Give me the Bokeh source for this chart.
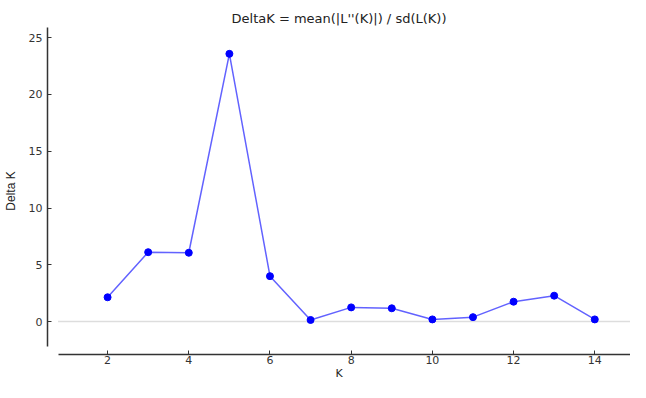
from bokeh.plotting import figure
from bokeh.models import LinearAxis, Range1d, FixedTicker, ColumnDataSource
from bokeh.embed import file_html
from bokeh.resources import INLINE

k_values = [2, 3, 4, 5, 6, 7, 8, 9, 10, 11, 12, 13, 14]
delta_k = [2.14, 6.11, 6.06, 23.58, 4.0, 0.14, 1.25, 1.17, 0.19, 0.39, 1.75, 2.28, 0.19]
x_ticks = [2, 4, 6, 8, 10, 12, 14]
y_ticks = [0, 5, 10, 15, 20, 25]
title_text = "DeltaK = mean(|L''(K)|) / sd(L(K))"

x_lo, x_hi = 0.78, 14.88
y_lo, y_hi = -2.2, 25.9

p = figure(width=630, height=382, output_backend="svg", toolbar_location=None,
           x_range=Range1d(0.52, x_hi), y_range=Range1d(-2.9, y_hi),
           x_axis_type=None, y_axis_type=None,
           min_border_left=43, min_border_right=0, min_border_top=27, min_border_bottom=0)
p.outline_line_color = None
p.grid.visible = False
p.background_fill_color = "white"

p.title.text = title_text
p.title.text_font = "DejaVu Sans"
p.title.text_font_size = "13px"
p.title.text_font_style = "normal"
p.title.text_color = "#222222"
p.title.align = "center"
p.title.standoff = 3

tick_font = "DejaVu Sans"
xaxis = LinearAxis(ticker=FixedTicker(ticks=x_ticks), bounds=(x_lo, x_hi), axis_label="K")
yaxis = LinearAxis(ticker=FixedTicker(ticks=y_ticks), bounds=(y_lo, y_hi), axis_label="Delta K")
for ax in (xaxis, yaxis):
    ax.axis_line_color = "#333333"
    ax.axis_line_width = 1.5
    ax.major_tick_in = 4
    ax.major_tick_out = 0
    ax.major_tick_line_color = "#333333"
    ax.minor_tick_line_color = None
    ax.major_label_text_font = tick_font
    ax.major_label_text_font_size = "11px"
    ax.major_label_text_color = "#333333"
    ax.axis_label_text_font_style = "normal"
    ax.axis_label_text_color = "#222222"
xaxis.major_label_standoff = 1
xaxis.axis_label_standoff = 0
xaxis.axis_label_text_font = "DejaVu Sans"
xaxis.axis_label_text_font_size = "11px"
yaxis.major_label_standoff = 5
yaxis.axis_label_standoff = 8
yaxis.axis_label_text_font = "Liberation Sans"
yaxis.axis_label_text_font_size = "12px"
p.add_layout(xaxis, "below")
p.add_layout(yaxis, "left")

# zero reference line
p.line(x=[x_lo, x_hi], y=[0, 0], line_color="#dddddd", line_width=1.5)

src = ColumnDataSource(data=dict(k=k_values, d=delta_k))
p.line(x="k", y="d", source=src, line_color="#2020ff", line_alpha=0.7, line_width=1.5)
p.scatter(x="k", y="d", source=src, size=7, fill_color="#0000ff", line_color="#0000ff")

open("out.html", "w").write(file_html(p, INLINE))
